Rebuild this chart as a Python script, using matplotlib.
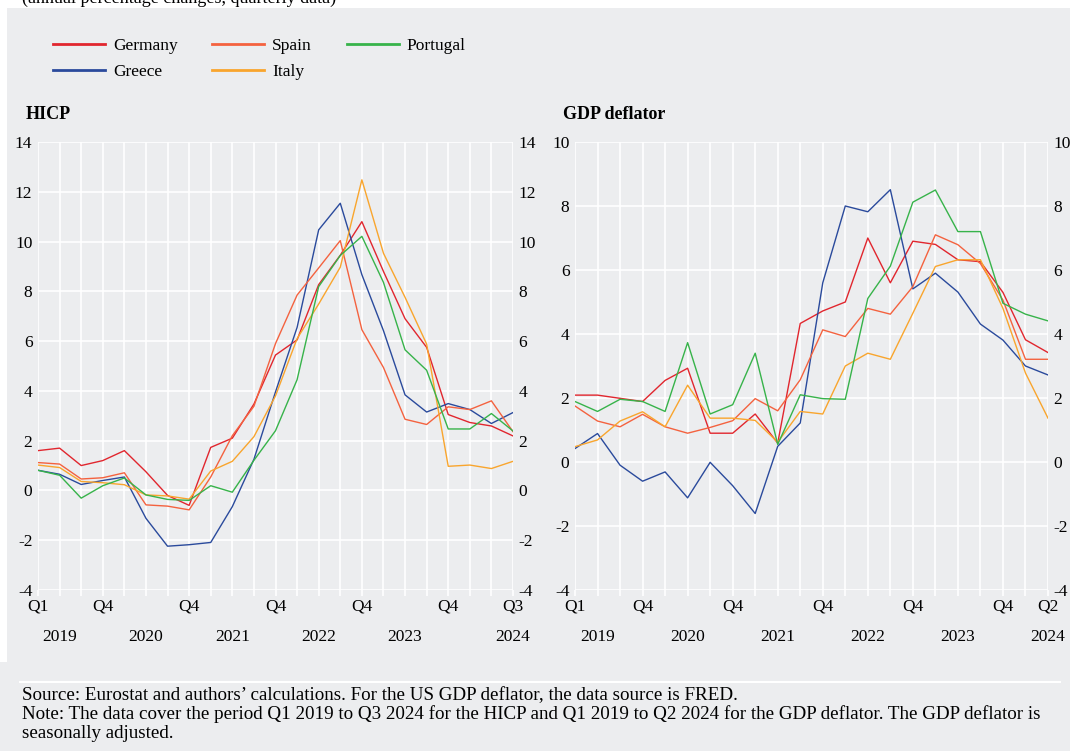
import matplotlib
matplotlib.use("Agg")
from matplotlib import pyplot as plt
from matplotlib import transforms

plt.rcParams['font.family'] = ['Liberation Serif', 'DejaVu Serif']
plt.rcParams['axes.unicode_minus'] = False

# HICP, Q1 2019 - Q3 2024
hicp_germany = [1.6, 1.7, 1.0, 1.2, 1.6, 0.75, -0.2, -0.6, 1.73, 2.1, 3.47, 5.44,
                6.05, 8.27, 9.45, 10.8, 8.8, 6.9, 5.75, 3.05, 2.73, 2.59, 2.19]
hicp_spain = [1.12, 1.06, 0.46, 0.51, 0.71, -0.58, -0.63, -0.78, 0.54, 2.2, 3.38, 5.9,
              7.85, 8.94, 10.04, 6.46, 4.94, 2.86, 2.65, 3.36, 3.25, 3.6, 2.36]
hicp_greece = [0.81, 0.65, 0.24, 0.40, 0.54, -1.12, -2.24, -2.18, -2.09, -0.65, 1.25, 3.96,
               6.55, 10.47, 11.54, 8.67, 6.42, 3.84, 3.15, 3.49, 3.25, 2.69, 3.13]
hicp_italy = [1.02, 0.92, 0.36, 0.31, 0.23, -0.18, -0.22, -0.35, 0.78, 1.17, 2.16, 3.8,
              6.1, 7.49, 8.97, 12.48, 9.53, 7.76, 5.88, 0.97, 1.02, 0.88, 1.17]
hicp_portugal = [0.81, 0.61, -0.31, 0.19, 0.50, -0.18, -0.36, -0.40, 0.19, -0.07, 1.21, 2.4,
                 4.45, 8.19, 9.44, 10.21, 8.36, 5.65, 4.83, 2.47, 2.47, 3.09, 2.39]

# GDP deflator, Q1 2019 - Q2 2024
gdp_germany = [2.09, 2.09, 1.99, 1.89, 2.55, 2.93, 0.90, 0.90, 1.50, 0.59, 4.33, 4.72,
               5.0, 7.0, 5.6, 6.9, 6.8, 6.32, 6.26, 5.3, 3.82, 3.42]
gdp_spain = [1.75, 1.28, 1.1, 1.49, 1.1, 0.9, 1.08, 1.29, 1.98, 1.6, 2.57, 4.13,
             3.92, 4.8, 4.62, 5.48, 7.1, 6.79, 6.2, 5.06, 3.21, 3.21]
gdp_greece = [0.42, 0.89, -0.10, -0.6, -0.31, -1.12, -0.01, -0.74, -1.61, 0.49, 1.22, 5.6,
              8.0, 7.82, 8.51, 5.41, 5.9, 5.31, 4.31, 3.81, 3.0, 2.72]
gdp_italy = [0.48, 0.69, 1.28, 1.57, 1.1, 2.4, 1.37, 1.37, 1.3, 0.62, 1.58, 1.5,
             3.0, 3.4, 3.21, 4.65, 6.11, 6.32, 6.32, 4.8, 2.78, 1.37]
gdp_portugal = [1.89, 1.58, 1.96, 1.89, 1.58, 3.73, 1.5, 1.79, 3.4, 0.55, 2.1, 1.98,
                1.96, 5.11, 6.12, 8.12, 8.5, 7.2, 7.2, 4.96, 4.62, 4.41]

countries = ['Germany', 'Greece', 'Spain', 'Italy', 'Portugal']
colors = {'Germany': '#E1262E', 'Greece': '#2A4A9C', 'Spain': '#F4623F',
          'Italy': '#F9A52D', 'Portugal': '#37B34A'}

hicp = {'Germany': hicp_germany, 'Greece': hicp_greece, 'Spain': hicp_spain,
        'Italy': hicp_italy, 'Portugal': hicp_portugal}
gdp = {'Germany': gdp_germany, 'Greece': gdp_greece, 'Spain': gdp_spain,
       'Italy': gdp_italy, 'Portugal': gdp_portugal}

hicp_qlabels = {0: 'Q1', 3: 'Q4', 7: 'Q4', 11: 'Q4', 15: 'Q4', 19: 'Q4', 22: 'Q3'}
gdp_qlabels = {0: 'Q1', 3: 'Q4', 7: 'Q4', 11: 'Q4', 15: 'Q4', 19: 'Q4', 21: 'Q2'}
hicp_years = {1: '2019', 5: '2020', 9: '2021', 13: '2022', 17: '2023', 22: '2024'}
gdp_years = {1: '2019', 5: '2020', 9: '2021', 13: '2022', 17: '2023', 21: '2024'}

bg = '#ECEDEF'
W, H = 1070, 751
fig = plt.figure(figsize=(W / 100, H / 100), dpi=100)
fig.patch.set_facecolor('white')

# grey panel + footer
fig.patches.append(plt.Rectangle((7 / W, 0), 1, 1 - 8 / H, transform=fig.transFigure,
                                 facecolor=bg, edgecolor='none', zorder=-10))
fig.patches.append(plt.Rectangle((0, 0), 7 / W, 1 - 662 / H, transform=fig.transFigure,
                                 facecolor=bg, edgecolor='none', zorder=-10))
fig.add_artist(plt.Line2D([20 / W, 1060 / W], [1 - 682 / H, 1 - 682 / H],
                          transform=fig.transFigure, color='white', lw=1.5))

fig.text(22 / W, 1 - 3 / H, '(annual percentage changes, quarterly data)',
         fontsize=13, va='baseline', ha='left')


def draw_panel(ax, data, qlabels, years, ylim, yticks, title):
    n = len(data['Germany'])
    ax.set_facecolor(bg)
    for c in countries:
        ax.plot(range(n), data[c], color=colors[c], lw=1.0, label=c, zorder=3)
    ax.set_xlim(0, n - 1)
    ax.set_ylim(*ylim)
    ax.set_yticks(yticks)
    ax.set_xticks(range(n))
    ax.set_xticklabels([qlabels.get(i, '') for i in range(n)])
    ax.grid(True, color='white', lw=1.2, zorder=0)
    ax.set_axisbelow(True)
    for s in ax.spines.values():
        s.set_visible(False)
    ax.tick_params(axis='y', length=0, pad=4, labelsize=12.5,
                   left=True, right=True, labelleft=True, labelright=True)
    ax.tick_params(axis='x', length=4, color='white', width=1.2, pad=2, labelsize=12.5)
    trans = transforms.blended_transform_factory(ax.transData, ax.transAxes)
    for i, y in years.items():
        ax.text(i, -0.105, y, transform=trans, ha='center', va='center', fontsize=12.5)
    ax.text(-0.025, 1.062, title, transform=ax.transAxes, fontsize=13,
            fontweight='bold', ha='left', va='center')


ax1 = fig.add_axes([38 / W, 1 - 590 / H, 475 / W, 448 / H])
ax2 = fig.add_axes([575 / W, 1 - 590 / H, 473 / W, 448 / H])

draw_panel(ax1, hicp, hicp_qlabels, hicp_years, (-4, 14), range(-4, 15, 2), 'HICP')
draw_panel(ax2, gdp, gdp_qlabels, gdp_years, (-4, 10), range(-4, 11, 2), 'GDP deflator')

handles, labels = ax1.get_legend_handles_labels()
leg = fig.legend(handles, labels, ncol=3, loc='upper left',
                 bbox_to_anchor=(53 / W, 1 - 38 / H), frameon=False,
                 fontsize=12.5, handlelength=3.0, handletextpad=0.45,
                 columnspacing=2.0, labelspacing=0.57, borderpad=0, borderaxespad=0)
for line in leg.get_lines():
    line.set_linewidth(2.0)

fig.text(22 / W, 1 - 687 / H,
         'Source: Eurostat and authors\u2019 calculations. For the US GDP deflator, the data source is FRED.\n'
         'Note: The data cover the period Q1 2019 to Q3 2024 for the HICP and Q1 2019 to Q2 2024 for the GDP deflator. The GDP deflator is\n'
         'seasonally adjusted.',
         fontsize=13.7, va='top', ha='left', linespacing=1.1)

fig.savefig('out.png', dpi=100, facecolor=fig.get_facecolor())
